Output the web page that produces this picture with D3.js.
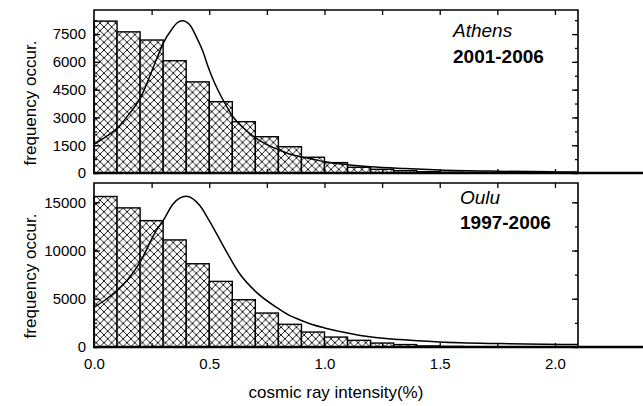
<!DOCTYPE html>
<html><head><meta charset="utf-8">
<script src="https://cdn.jsdelivr.net/npm/d3@7"></script>
<style>
body{margin:0;background:#fff;}
svg{display:block;font-family:"Liberation Sans",Arial,Helvetica,sans-serif;}
</style></head>
<body><svg id="c" width="643" height="406"></svg>
<script>
// ---- data ----
const binStarts = [0,0.1,0.2,0.3,0.4,0.5,0.6,0.7,0.8,0.9,1.0,1.1,1.2,1.3,1.4,1.5,1.6,1.7,1.8,1.9,2.0];
const binWidth = 0.1;
const athensCounts = [8200,7620,7180,6060,4920,3850,2770,1960,1420,850,560,310,200,125,70,40,25,15,10,5,3];
const ouluCounts = [15600,14420,13100,11100,8630,6800,4900,3520,2350,1550,1030,690,410,250,110,60,35,20,10,5,3];

const athensFitX = [0,0.05,0.1,0.15,0.2,0.27,0.3,0.34,0.36,0.384,0.416,0.444,0.473,0.495,0.52,0.56,0.603,0.65,0.704,0.75,0.805,0.848,0.9,0.95,1.0,1.1,1.2,1.35,1.5,1.75,2.0,2.1];
const athensFitY = [1550,1950,2410,3150,4030,6100,7000,7800,8100,8220,7990,7350,6550,5740,4950,3940,3040,2420,1870,1530,1240,1025,870,740,610,450,340,240,160,95,60,50];
const ouluFitX = [0,0.05,0.1,0.15,0.2,0.27,0.3,0.343,0.4,0.459,0.5,0.56,0.632,0.704,0.79,0.848,0.892,0.95,1.0,1.1,1.18,1.325,1.5,1.76,2.1];
const ouluFitY = [4100,4900,5870,7100,8800,12070,13100,14830,15620,14660,13100,10520,7590,5690,4140,3280,2830,2300,1980,1450,1110,765,517,350,248];

const yTicksAthens = [0,1500,3000,4500,6000,7500];
const yTicksOulu = [0,5000,10000,15000];
const xTicks = [0,0.5,1.0,1.5,2.0];
const xLabel = "cosmic ray intensity(%)";
const yLabel = "frequency occur.";

// ---- layout ----
const svg = d3.select("#c");
const L = 94, R = 578;
const x = d3.scaleLinear().domain([0,2.1]).range([L,R]);

const defs = svg.append("defs");
const pat = defs.append("pattern").attr("id","hatch").attr("patternUnits","userSpaceOnUse")
  .attr("width",7.7).attr("height",7.7);
pat.append("rect").attr("width",7.7).attr("height",7.7).attr("fill","#fff");
pat.append("path").attr("d","M0,0L7.7,7.7M7.7,0L0,7.7M-1,1L1,-1M6.7,8.7L8.7,6.7M-1,6.7L1,8.7M6.7,-1L8.7,1")
  .attr("stroke","#000").attr("stroke-width",0.9);

function panel(top, bottom, ymax, counts, fx, fy, majors, minorStep, showX, label, period, yLabCenter){
  const y = d3.scaleLinear().domain([0,ymax]).range([bottom, top]);
  const g = svg.append("g");
  const cid = "clip"+top;
  defs.append("clipPath").attr("id",cid).append("rect").attr("x",L).attr("y",top).attr("width",R-L).attr("height",bottom-top);
  // bars
  g.append("g").selectAll("rect").data(counts).join("rect")
    .attr("x",(d,i)=>x(binStarts[i]))
    .attr("width",(d,i)=>x(binStarts[i]+binWidth)-x(binStarts[i]))
    .attr("y",d=>y(d)).attr("height",d=>bottom-y(d))
    .attr("fill","url(#hatch)").attr("stroke","#000").attr("stroke-width",1.4);
  // fit curve
  const line = d3.line().x(d=>x(d[0])).y(d=>y(d[1])).curve(d3.curveMonotoneX);
  g.append("path").datum(fx.map((v,i)=>[v,fy[i]])).attr("d",line)
    .attr("fill","none").attr("stroke","#000").attr("stroke-width",1.5).attr("clip-path",`url(#${cid})`);
  // minor y ticks (both sides)
  const minors = d3.range(0, ymax, minorStep);
  const ax = (axis)=>axis.tickFormat("").tickSizeOuter(0);
  g.append("g").attr("transform",`translate(${L},0)`).call(ax(d3.axisLeft(y).tickValues(minors).tickSize(-3)));
  g.append("g").attr("transform",`translate(${R},0)`).call(ax(d3.axisRight(y).tickValues(minors).tickSize(-3)));
  g.append("g").attr("transform",`translate(${L},0)`).call(ax(d3.axisLeft(y).tickValues(majors).tickSize(-6)));
  g.append("g").attr("transform",`translate(${R},0)`).call(ax(d3.axisRight(y).tickValues(majors).tickSize(-6)));
  // y labels
  const yl = g.append("g").attr("transform",`translate(${L},0)`)
    .call(d3.axisLeft(y).tickValues(majors).tickSize(0).tickPadding(8).tickFormat(d3.format("d")));
  yl.select(".domain").remove();
  yl.selectAll("text").attr("font-size",15).attr("font-family","Liberation Sans, Arial, sans-serif").attr("fill","#000");
  // x ticks top & bottom
  const xt = d3.range(0.25, 2.1, 0.25);
  g.append("g").attr("transform",`translate(0,${top})`).call(ax(d3.axisTop(x).tickValues(xt).tickSize(-5)));
  g.append("g").attr("transform",`translate(0,${bottom})`).call(ax(d3.axisBottom(x).tickValues(xt).tickSize(-4)));
  g.selectAll(".domain").remove();
  g.selectAll(".tick line").attr("stroke","#000").attr("stroke-width",1.3);
  // frame
  g.append("path").attr("d",`M${L},${bottom}V${top}H${R}V${bottom}`).attr("fill","none").attr("stroke","#000").attr("stroke-width",1.6);
  g.append("line").attr("x1",L-1).attr("x2",643).attr("y1",bottom).attr("y2",bottom).attr("stroke","#000").attr("stroke-width",2.4);
  if(showX){
    const xa = g.append("g").attr("transform",`translate(0,${bottom})`)
      .call(d3.axisBottom(x).tickValues(xTicks).tickSize(0).tickPadding(11).tickFormat(d3.format(".1f")));
    xa.select(".domain").remove();
    xa.selectAll("text").attr("font-size",15).attr("font-family","Liberation Sans, Arial, sans-serif").attr("fill","#000");
  }
  // annotations
  const ax0 = label.x;
  g.append("text").attr("x",ax0).attr("y",label.y1).attr("font-size",19).attr("font-style","italic").text(label.name);
  g.append("text").attr("x",ax0).attr("y",label.y2).attr("font-size",19).attr("font-weight","bold").text(period);
  // y axis title
  svg.append("text").attr("transform",`translate(36,${yLabCenter}) rotate(-90)`).attr("text-anchor","middle")
    .attr("font-size",17).text(yLabel);
}

panel(10, 173, 8800, athensCounts, athensFitX, athensFitY, yTicksAthens, 750, false,
  {name:"Athens", x:453, y1:37, y2:63}, "2001-2006", 103);
panel(183, 347, 17000, ouluCounts, ouluFitX, ouluFitY, yTicksOulu, 2500, true,
  {name:"Oulu", x:460, y1:204, y2:229}, "1997-2006", 276);

svg.append("text").attr("x",336).attr("y",398).attr("text-anchor","middle").attr("font-size",17).text(xLabel);
</script></body></html>
